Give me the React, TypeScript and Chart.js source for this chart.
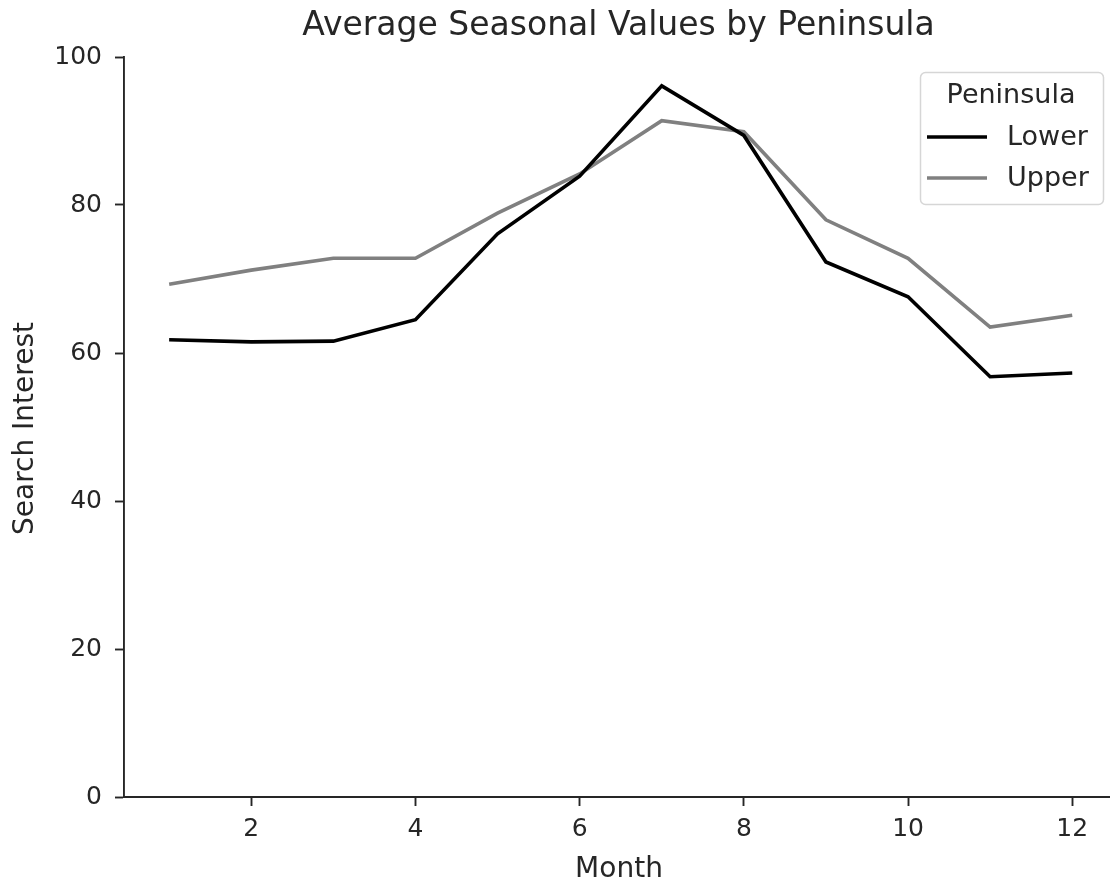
import React, { useEffect, useRef } from 'react';
import { Chart, registerables } from 'chart.js';

Chart.register(...registerables);

const months = [1, 2, 3, 4, 5, 6, 7, 8, 9, 10, 11, 12];
const lowerValues = [61.8, 61.5, 61.6, 64.5, 76.1, 83.9, 96.1, 89.4, 72.3, 67.6, 56.8, 57.3];
const upperValues = [69.3, 71.2, 72.8, 72.8, 78.9, 84.2, 91.4, 89.9, 78.0, 72.8, 63.5, 65.1];
const xTicks = [2, 4, 6, 8, 10, 12];
const yTicks = [0, 20, 40, 60, 80, 100];
const seriesNames = ['Lower', 'Upper'];
const seriesColors = ['#000000', '#808080'];
const chartTitle = 'Average Seasonal Values by Peninsula';
const legendTitle = 'Peninsula';
const xLabel = 'Month';
const yLabel = 'Search Interest';

const FONT = '"DejaVu Sans", sans-serif';
const TEXT = '#262626';

const textPlugin = {
  id: 'customText',
  afterDraw(chart: any) {
    const { ctx } = chart;
    ctx.save();
    ctx.fillStyle = TEXT;
    ctx.textBaseline = 'alphabetic';
    ctx.textAlign = 'center';
    ctx.font = `33px ${FONT}`;
    ctx.fillText(chartTitle, 618.5, 34.5);
    ctx.font = `28px ${FONT}`;
    ctx.fillText(xLabel, 619, 877);
    ctx.translate(33, 428.5);
    ctx.rotate(-Math.PI / 2);
    ctx.fillText(yLabel, 0, 0);
    ctx.restore();
  },
};

const legendPlugin = {
  id: 'customLegend',
  afterDraw(chart: any) {
    const { ctx } = chart;
    const x = 920.5, y = 72.5, w = 183, h = 132, r = 5;
    ctx.save();
    ctx.beginPath();
    ctx.moveTo(x + r, y);
    ctx.lineTo(x + w - r, y);
    ctx.arcTo(x + w, y, x + w, y + r, r);
    ctx.lineTo(x + w, y + h - r);
    ctx.arcTo(x + w, y + h, x + w - r, y + h, r);
    ctx.lineTo(x + r, y + h);
    ctx.arcTo(x, y + h, x, y + h - r, r);
    ctx.lineTo(x, y + r);
    ctx.arcTo(x, y, x + r, y, r);
    ctx.closePath();
    ctx.fillStyle = 'rgba(255,255,255,0.8)';
    ctx.fill();
    ctx.strokeStyle = '#d6d6d6';
    ctx.lineWidth = 1.5;
    ctx.stroke();

    ctx.font = `27px ${FONT}`;
    ctx.fillStyle = TEXT;
    ctx.textBaseline = 'middle';
    ctx.textAlign = 'center';
    ctx.fillText(legendTitle, 1011, 96);
    ctx.textAlign = 'left';
    const rows = [138, 179];
    seriesNames.forEach((name, i) => {
      ctx.beginPath();
      ctx.moveTo(927, rows[i] - 1);
      ctx.lineTo(987, rows[i] - 1);
      ctx.strokeStyle = seriesColors[i];
      ctx.lineWidth = 3.6;
      ctx.stroke();
      ctx.fillStyle = TEXT;
      ctx.fillText(name, 1007, rows[i]);
    });
    ctx.restore();
  },
};

export default function App() {
  const canvasRef = useRef<HTMLCanvasElement | null>(null);

  useEffect(() => {
    document.body.style.margin = '0';
    const canvas = canvasRef.current;
    if (!canvas) return;
    const chart = new Chart(canvas, {
      type: 'line',
      data: {
        datasets: [
          {
            label: seriesNames[0],
            data: months.map((m, i) => ({ x: m, y: lowerValues[i] })),
            borderColor: seriesColors[0],
            backgroundColor: seriesColors[0],
            borderWidth: 3.6,
            pointRadius: 0,
            tension: 0,
          },
          {
            label: seriesNames[1],
            data: months.map((m, i) => ({ x: m, y: upperValues[i] })),
            borderColor: seriesColors[1],
            backgroundColor: seriesColors[1],
            borderWidth: 3.6,
            pointRadius: 0,
            tension: 0,
          },
        ],
      },
      options: {
        responsive: false,
        animation: false,
        layout: { padding: { top: 57, left: 0, right: 0, bottom: 0 } },
        plugins: {
          legend: { display: false },
          title: { display: false },
          tooltip: { enabled: false },
        },
        scales: {
          x: {
            type: 'linear',
            min: 0.45,
            max: 12.46,
            afterBuildTicks: (scale: any) => {
              scale.ticks = xTicks.map((v) => ({ value: v }));
            },
            afterFit: (scale: any) => {
              scale.height = 84;
            },
            ticks: {
              font: { family: FONT, size: 25 },
              color: TEXT,
              padding: 8,
              maxRotation: 0,
              autoSkip: false,
            },
            grid: {
              display: true,
              drawOnChartArea: false,
              drawTicks: true,
              tickLength: 9,
              tickWidth: 1.9,
              tickColor: TEXT,
            },
            border: { display: true, color: TEXT, width: 1.9 },
            title: { display: false },
          },
          y: {
            type: 'linear',
            min: 0,
            max: 100,
            afterBuildTicks: (scale: any) => {
              scale.ticks = yTicks.map((v) => ({ value: v }));
            },
            afterFit: (scale: any) => {
              scale.width = 124;
            },
            ticks: {
              font: { family: FONT, size: 25 },
              color: TEXT,
              padding: 13,
            },
            grid: {
              display: true,
              drawOnChartArea: false,
              drawTicks: true,
              tickLength: 9,
              tickWidth: 1.9,
              tickColor: TEXT,
            },
            border: { display: true, color: TEXT, width: 1.9 },
            title: { display: false },
          },
        },
      },
      plugins: [textPlugin, legendPlugin],
    } as any);
    return () => chart.destroy();
  }, []);

  return <canvas ref={canvasRef} width={1110} height={881} style={{ display: 'block' }} />;
}
